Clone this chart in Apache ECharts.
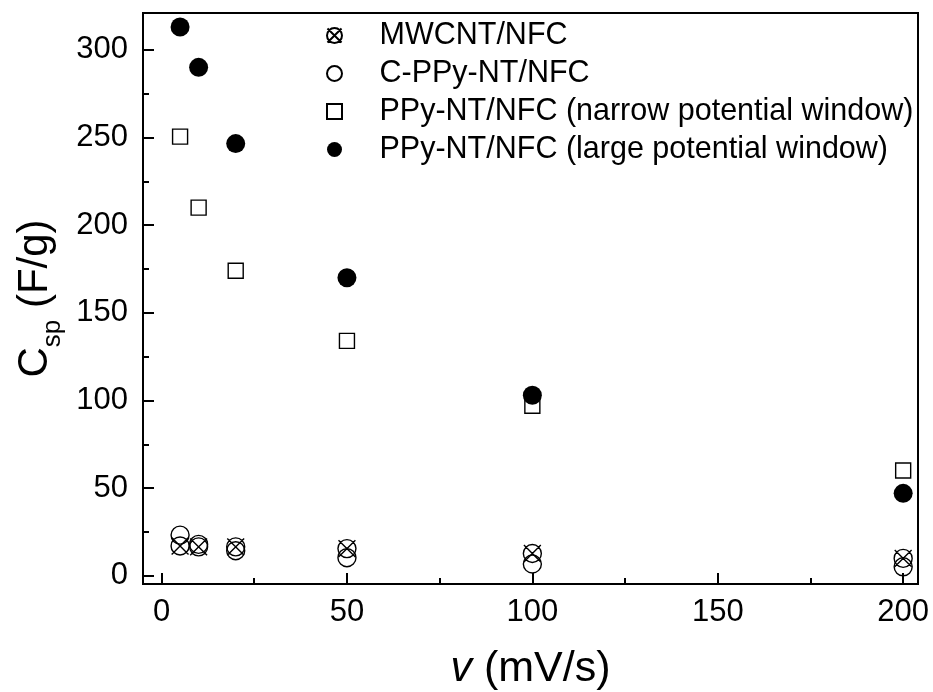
<!DOCTYPE html>
<html>
<head>
<meta charset="utf-8">
<title>Csp vs scan rate</title>
<script src="https://cdn.jsdelivr.net/npm/echarts@6/dist/echarts.min.js"></script>
<style>
  html, body { margin: 0; padding: 0; background: #fff; }
  #main { width: 933px; height: 692px; }
</style>
</head>
<body>
<div id="main"></div>
<script>
// scan rate v (mV/s)
var scanRates = [5, 10, 20, 50, 100, 200];
// specific capacitance Csp (F/g)
var mwcntNfc = [17, 16.5, 16.5, 15.5, 12.7, 9.9];
var cPpyNtNfc = [23.2, 17.9, 14.3, 10.3, 6.7, 5.1];
var ppyNarrow = [250.5, 210, 174, 134, 97, 60];
var ppyLarge = [313, 290, 246.5, 170, 103, 47];

var seriesNames = [
  'MWCNT/NFC',
  'C-PPy-NT/NFC',
  'PPy-NT/NFC (narrow potential window)',
  'PPy-NT/NFC (large potential window)'
];

var xMajorTicks = [0, 50, 100, 150, 200];
var xMinorTicks = [25, 75, 125, 175];
var yMajorTicks = [0, 50, 100, 150, 200, 250, 300];
var yMinorTicks = [25, 75, 125, 175, 225, 275];

var FONT = 'Liberation Sans, Arial, sans-serif';
var X_MIN = -5, X_MAX = 204;
var Y_MIN = -4.7, Y_MAX = 321;

// circle with a cross through it, and a plain square
var crossedCircle = 'path://M2,10A8,8,0,1,1,18,10A8,8,0,1,1,2,10ZM2.5,2.5L17.5,17.5M17.5,2.5L2.5,17.5';
var square = 'path://M0,0L10,0L10,10L0,10Z';

function pairs(ys) {
  return scanRates.map(function (x, i) { return [x, ys[i]]; });
}

function openStyle() {
  return { color: 'transparent', borderColor: '#000', borderWidth: 1.4, opacity: 1 };
}

var chart = echarts.init(document.getElementById('main'));

var gridBox = { left: 143, right: 15, top: 13, bottom: 108, outerBoundsMode: 'none' };

var option = {
  animation: false,
  backgroundColor: '#fff',
  textStyle: { fontFamily: FONT },
  legend: {
    orient: 'vertical',
    left: 321,
    top: 15,
    itemWidth: 80,
    itemHeight: 15,
    itemGap: 7,
    selectedMode: false,
    textStyle: { fontSize: 30.5, lineHeight: 30, color: '#000', fontFamily: FONT },
    data: seriesNames
  },
  grid: [
    Object.assign({ show: true, borderColor: '#000', borderWidth: 2 }, gridBox),
    Object.assign({ show: false }, gridBox)
  ],
  xAxis: [
    {
      gridIndex: 0,
      type: 'value',
      min: X_MIN,
      max: X_MAX,
      splitLine: { show: false },
      axisLine: { show: true, onZero: false, lineStyle: { color: '#000', width: 2 } },
      axisTick: { show: true, inside: true, length: 11, lineStyle: { color: '#000', width: 2 }, customValues: xMajorTicks },
      axisLabel: { customValues: xMajorTicks, fontSize: 31, color: '#000', margin: 13, fontFamily: FONT },
      name: '{i|v}{n| (mV/s)}',
      nameLocation: 'middle',
      nameGap: 64,
      nameTextStyle: {
        rich: {
          i: { fontSize: 43, fontStyle: 'italic', color: '#000', fontFamily: FONT },
          n: { fontSize: 43, color: '#000', fontFamily: FONT }
        }
      }
    },
    {
      gridIndex: 1,
      type: 'value',
      min: X_MIN,
      max: X_MAX,
      splitLine: { show: false },
      axisLine: { show: false, onZero: false },
      axisLabel: { show: false },
      axisTick: { show: true, inside: true, length: 6, lineStyle: { color: '#000', width: 2 }, customValues: xMinorTicks }
    }
  ],
  yAxis: [
    {
      gridIndex: 0,
      type: 'value',
      min: Y_MIN,
      max: Y_MAX,
      splitLine: { show: false },
      axisLine: { show: true, onZero: false, lineStyle: { color: '#000', width: 2 } },
      axisTick: { show: true, inside: true, length: 11, lineStyle: { color: '#000', width: 2 }, customValues: yMajorTicks },
      axisLabel: { customValues: yMajorTicks, fontSize: 31, color: '#000', margin: 15, fontFamily: FONT },
      name: '{a|C}{b|sp}{a| (F/g)}',
      nameLocation: 'middle',
      nameGap: 77,
      nameTextStyle: {
        rich: {
          a: { fontSize: 42, lineHeight: 60, verticalAlign: 'middle', color: '#000', fontFamily: FONT },
          b: { fontSize: 26, lineHeight: 24, verticalAlign: 'bottom', color: '#000', fontFamily: FONT }
        }
      }
    },
    {
      gridIndex: 1,
      type: 'value',
      min: Y_MIN,
      max: Y_MAX,
      splitLine: { show: false },
      axisLine: { show: false, onZero: false },
      axisLabel: { show: false },
      axisTick: { show: true, inside: true, length: 6, lineStyle: { color: '#000', width: 2 }, customValues: yMinorTicks }
    }
  ],
  series: [
    {
      name: seriesNames[0],
      type: 'scatter',
      symbol: crossedCircle,
      symbolSize: 18,
      itemStyle: openStyle(),
      data: pairs(mwcntNfc)
    },
    {
      name: seriesNames[1],
      type: 'scatter',
      symbol: 'circle',
      symbolSize: 18,
      itemStyle: openStyle(),
      data: pairs(cPpyNtNfc)
    },
    {
      name: seriesNames[2],
      type: 'scatter',
      symbol: square,
      symbolSize: 15,
      itemStyle: openStyle(),
      data: pairs(ppyNarrow)
    },
    {
      name: seriesNames[3],
      type: 'scatter',
      symbol: 'circle',
      symbolSize: 19,
      itemStyle: { color: '#000', opacity: 1 },
      data: pairs(ppyLarge)
    }
  ]
};

chart.setOption(option);
</script>
</body>
</html>
